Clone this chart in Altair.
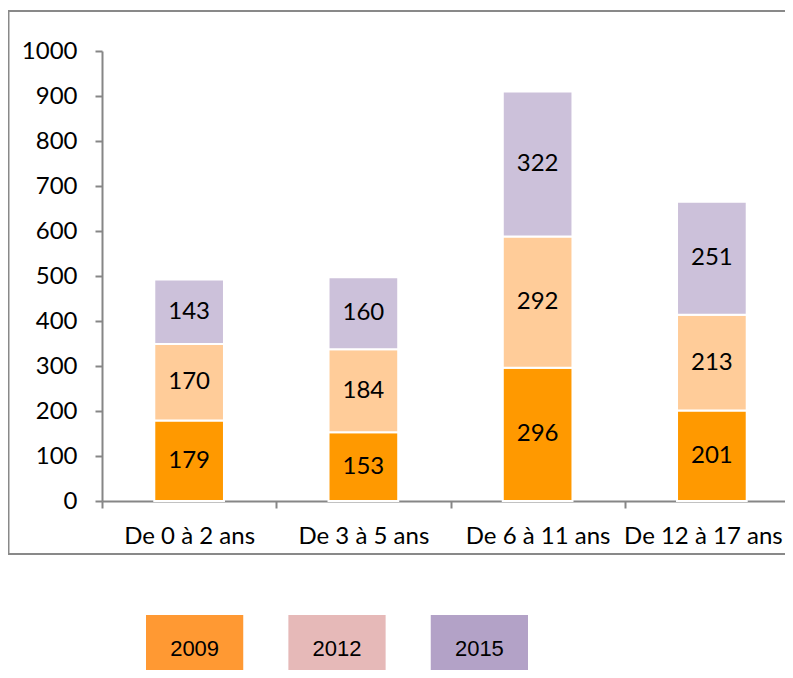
import altair as alt
import pandas as pd

categories = ["De 0 à 2 ans", "De 3 à 5 ans", "De 6 à 11 ans", "De 12 à 17 ans"]
years = ["2009", "2012", "2015"]
values_2009 = [179, 153, 296, 201]
values_2012 = [170, 184, 292, 213]
values_2015 = [143, 160, 322, 251]
bar_colors = ["#FF9900", "#FFCC99", "#CCC1DA"]
legend_colors = ["#FF9933", "#E6B9B8", "#B3A2C7"]
y_ticks = list(range(0, 1001, 100))

rows = []
for yi, (yr, vals) in enumerate(zip(years, [values_2009, values_2012, values_2015])):
    for c, v in zip(categories, vals):
        rows.append({"cat": c, "year": yr, "value": v, "order": yi})
df = pd.DataFrame(rows)

FONT = "Lato"
AXIS_COLOR = "#868686"
last_cat = categories[-1]

x_enc = alt.X(
    "cat:N",
    sort=categories,
    scale=alt.Scale(domain=categories, range=[0, 697], paddingInner=0, paddingOuter=0),
    axis=alt.Axis(
        title=None, orient="bottom", tickBand="extent",
        tickSize=7, tickColor=AXIS_COLOR, domainColor=AXIS_COLOR, domainWidth=2, tickWidth=2,
        labelFont=FONT, labelFontSize=24, labelColor="black", labelPadding=16,
        labelAngle=0, grid=False, labelOverlap=False, labelBound=False,
        labelOffset=alt.ExprRef(f"datum.value === '{last_cat}' ? -9 : 0"),
    ),
)
y_scale = alt.Scale(domain=[0, 1000], nice=False, zero=True)
y_axis = alt.Axis(
    title=None, orient="left", values=y_ticks, format="d",
    tickSize=7, tickColor=AXIS_COLOR, domainColor=AXIS_COLOR, domainWidth=2, tickWidth=2,
    labelFont=FONT, labelFontSize=24, labelColor="black", labelPadding=18, grid=False,
)

base = alt.Chart(df).transform_stack(
    stack="value", groupby=["cat"], as_=["v0", "v1"],
    sort=[alt.SortField("order", order="ascending")],
).transform_calculate(mid="(datum.v0 + datum.v1) / 2")

bars = base.mark_bar(stroke="white", strokeWidth=2, width=alt.RelativeBandSize(0.4)).encode(
    x=x_enc,
    y=alt.Y("v0:Q", scale=y_scale, axis=y_axis),
    y2="v1:Q",
    color=alt.Color("year:N", scale=alt.Scale(domain=years, range=bar_colors), legend=None),
)
labels = base.mark_text(font=FONT, fontSize=24, color="black").encode(
    x=x_enc,
    y=alt.Y("mid:Q", scale=y_scale, axis=y_axis),
    text="value:Q",
)
main = alt.layer(bars, labels)

leg_df = pd.DataFrame({"year": years})
leg_x = alt.X(
    "year:N", sort=years,
    scale=alt.Scale(domain=years, range=[44, 426], paddingInner=0.317, paddingOuter=0),
    axis=None,
)
leg_rect = alt.Chart(leg_df).mark_rect().encode(
    x=leg_x,
    y=alt.value(564),
    y2=alt.value(640),
    color=alt.Color("year:N", scale=alt.Scale(domain=years, range=legend_colors), legend=None),
)
leg_text = alt.Chart(leg_df).mark_text(font="Liberation Sans", fontSize=22, color="black", baseline="middle").encode(
    x=leg_x,
    y=alt.value(598),
    text="year:N",
)
legend = alt.layer(leg_rect, leg_text)

border = alt.Chart(pd.DataFrame({"k": [0]})).mark_rect(
    fill="transparent", stroke="#898989", strokeWidth=2
).encode(
    x=alt.value(-93.5), x2=alt.value(760), y=alt.value(-40), y2=alt.value(503),
)

chart = alt.layer(border, main, legend).resolve_scale(
    x="independent", color="independent"
).properties(
    width=683, height=450,
    autosize=alt.AutoSizeParams(type="none"),
    padding={"left": 94, "top": 43, "right": 0, "bottom": 169},
).configure(background="white").configure_view(stroke=None)

chart.save("out.html", embed_options={"renderer": "svg", "actions": False})
